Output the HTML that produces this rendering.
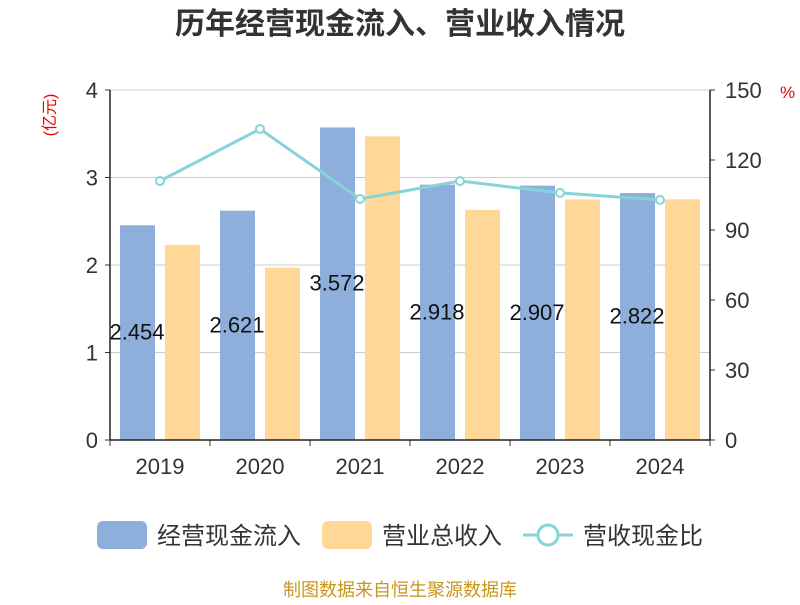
<!DOCTYPE html>
<html><head><meta charset="utf-8"><style>
body{margin:0;background:#fff;font-family:"Liberation Sans","Noto Sans CJK SC",sans-serif}
</style></head><body>
<svg id="c" width="800" height="600" xmlns="http://www.w3.org/2000/svg" font-family="Liberation Sans, Noto Sans CJK SC, sans-serif"></svg>
<script>
const categories=["2019","2020","2021","2022","2023","2024"];
const cashIn=[2.454,2.621,3.572,2.918,2.907,2.822];
const revenue=[2.23,1.97,3.47,2.63,2.75,2.75];
const ratio=[111,133.3,103.3,111,105.9,102.9];
const leftTicks=[0,1,2,3,4];
const rightTicks=[0,30,60,90,120,150];
const svg=document.getElementById('c');
const NS='http://www.w3.org/2000/svg';
const L=110,R=710,T=90,B=440;
const yL=v=>B-(v/4)*(B-T);
const yR=v=>B-(v/150)*(B-T);
const band=(R-L)/categories.length;
const xB=i=>L+i*band;
function mk(t,a,txt,name,inter){const e=document.createElementNS(NS,t);for(const k in a)e.setAttribute(k,a[k]);


if(txt!=null)e.textContent=txt;svg.appendChild(e);return e;}
mk('text',{x:400,y:34,'text-anchor':'middle','font-size':30,'font-weight':'bold',fill:'#333'},'历年经营现金流入、营业收入情况','chart-title');
leftTicks.forEach(v=>{if(v>0)mk('line',{x1:L,x2:R,y1:yL(v),y2:yL(v),stroke:'#ccc'},null,'grid-line');
mk('line',{x1:L-5,x2:L,y1:yL(v),y2:yL(v),stroke:'#333'},null,'left-tick');
mk('text',{x:L-12,y:yL(v)+8,'text-anchor':'end','font-size':22,fill:'#333'},v,'left-tick-label');});
rightTicks.forEach(v=>{mk('line',{x1:R,x2:R+5,y1:yR(v),y2:yR(v),stroke:'#333'},null,'right-tick');
mk('text',{x:R+15,y:yR(v)+8,'font-size':22,fill:'#333'},v,'right-tick-label');});
mk('text',{x:0,y:0,'font-size':16,fill:'#e00',transform:'translate(55,115) rotate(-90)','text-anchor':'middle'},'(亿元)','left-axis-unit');
mk('text',{x:780,y:98,'font-size':17,fill:'#e00'},'%','right-axis-unit');
categories.forEach((c,i)=>{
mk('rect',{x:xB(i)+10,y:yL(cashIn[i]),width:35,height:B-yL(cashIn[i]),fill:'#8eaedb'},null,'bar-cash-in-'+c);
mk('rect',{x:xB(i)+55,y:yL(revenue[i]),width:35,height:B-yL(revenue[i]),fill:'#ffd898'},null,'bar-revenue-'+c);
mk('line',{x1:xB(i),x2:xB(i),y1:B,y2:B+6,stroke:'#333'},null,'x-tick');
mk('text',{x:xB(i)+band/2,y:474,'text-anchor':'middle','font-size':22,fill:'#333'},c,'x-tick-label');
});
mk('line',{x1:R,x2:R,y1:B,y2:B+6,stroke:'#333'},null,'x-tick');
mk('line',{x1:L,x2:L,y1:T,y2:B,stroke:'#222','stroke-width':1.5},null,'left-axis');
mk('line',{x1:R,x2:R,y1:T,y2:B,stroke:'#222','stroke-width':1.5},null,'right-axis');
mk('line',{x1:L,x2:R,y1:B,y2:B,stroke:'#222','stroke-width':1.5},null,'x-axis');
categories.forEach((c,i)=>{
mk('text',{x:xB(i)+27,y:(yL(cashIn[i])+B)/2+7,'text-anchor':'middle','font-size':22,fill:'#111'},cashIn[i].toFixed(3),'value-label-'+c);});
mk('polyline',{points:ratio.map((v,i)=>(xB(i)+band/2)+','+yR(v)).join(' '),fill:'none',stroke:'#86d4d8','stroke-width':3},null,'ratio-line');
ratio.forEach((v,i)=>mk('circle',{cx:xB(i)+band/2,cy:yR(v),r:4,fill:'#fff',stroke:'#86d4d8','stroke-width':2},null,'ratio-point-'+categories[i]));
mk('rect',{x:97,y:521,width:50,height:28,rx:6,fill:'#8eaedb'},null,'legend-swatch-cash-in',true);
mk('text',{x:157,y:544,'font-size':24,fill:'#333'},'经营现金流入','legend-label-cash-in',true);
mk('rect',{x:322,y:521,width:50,height:28,rx:6,fill:'#ffd898'},null,'legend-swatch-revenue',true);
mk('text',{x:382,y:544,'font-size':24,fill:'#333'},'营业总收入','legend-label-revenue',true);
mk('line',{x1:523,x2:573,y1:535,y2:535,stroke:'#86d4d8','stroke-width':3},null,'legend-swatch-ratio-line',true);
mk('circle',{cx:548,cy:535,r:10,fill:'#fff',stroke:'#86d4d8','stroke-width':3},null,'legend-swatch-ratio-marker',true);
mk('text',{x:583,y:544,'font-size':24,fill:'#333'},'营收现金比','legend-label-ratio',true);
mk('text',{x:400,y:596,'text-anchor':'middle','font-size':18,fill:'#c8961e'},'制图数据来自恒生聚源数据库','source-note');
</script>
</body></html>
